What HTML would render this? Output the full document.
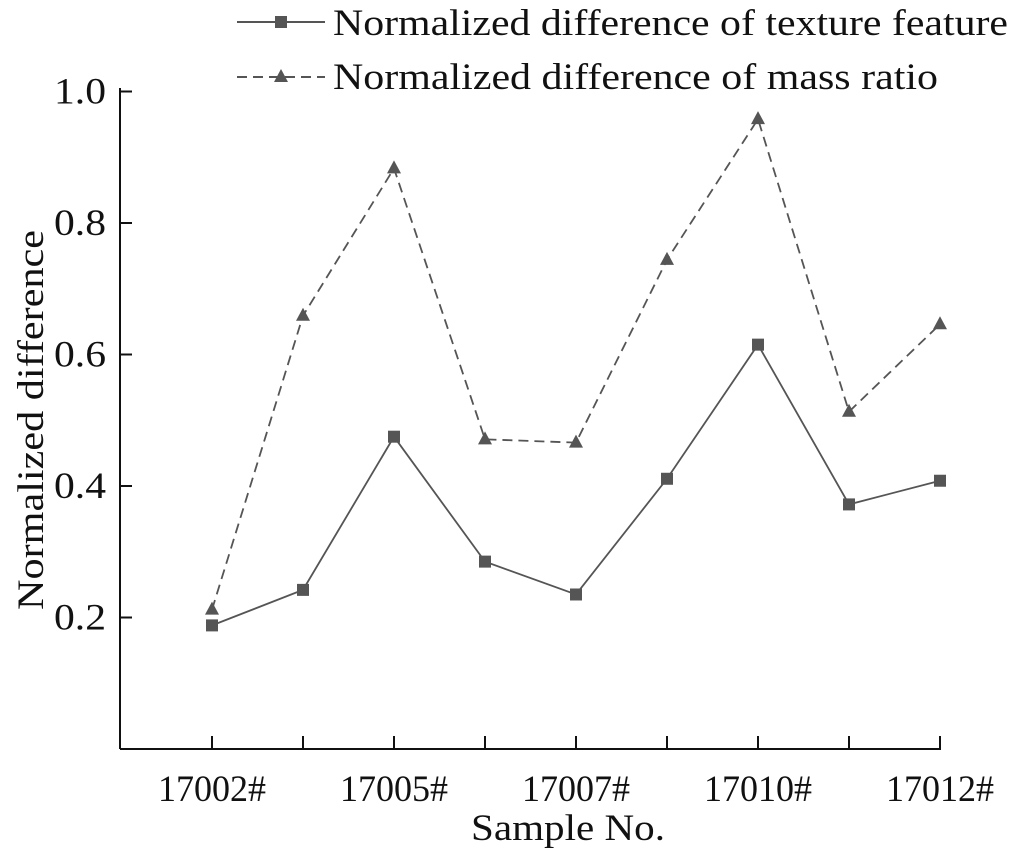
<!DOCTYPE html>
<html><head><meta charset="utf-8"><style>
body{margin:0;background:#fff}
svg{display:block;font-family:"Liberation Serif",serif}
</style></head><body>
<svg id="c" width="1012" height="853" viewBox="0 0 1012 853"></svg>
<script>
const categories=["17002#","","17005#","","17007#","","17010#","","17012#"];
const textureValues=[0.188,0.242,0.475,0.285,0.235,0.411,0.615,0.372,0.408];
const massValues=[0.212,0.659,0.883,0.471,0.466,0.744,0.958,0.513,0.646];
const yTicks=[0.2,0.4,0.6,0.8,1.0];
const yTickLabels=["0.2","0.4","0.6","0.8","1.0"];
const NS="http://www.w3.org/2000/svg";
const svg=document.getElementById('c');
const X0=120,Y0=749,x1=212,dx=91.0;
const xs=i=>x1+i*dx;
const ys=v=>Y0-v*657.5;
function mk(t,a,p){const e=document.createElementNS(NS,t);for(const k in a)e.setAttribute(k,a[k]);(p||svg).appendChild(e);return e;}
const C="#555";
let e;
e=mk('line',{x1:X0,y1:88,x2:X0,y2:Y0,stroke:"#111","stroke-width":2});


e=mk('line',{x1:X0,y1:Y0,x2:xs(8)+1,y2:Y0,stroke:"#111","stroke-width":2});


yTicks.forEach((v,i)=>{
 e=mk('line',{x1:X0,y1:ys(v),x2:X0+12,y2:ys(v),stroke:"#111","stroke-width":2});
 
 
 e=mk('text',{x:106,y:ys(v)+12,"text-anchor":"end","font-size":37,fill:"#111",textLength:52,lengthAdjust:"spacingAndGlyphs"});
 e.textContent=yTickLabels[i];
 
 
});
categories.forEach((c,i)=>{
 e=mk('line',{x1:xs(i),y1:Y0,x2:xs(i),y2:Y0-13,stroke:"#111","stroke-width":2});
 
 
 if(c){e=mk('text',{x:xs(i),y:801,"text-anchor":"middle","font-size":37,fill:"#111",textLength:108,lengthAdjust:"spacingAndGlyphs"});
 e.textContent=c;
 
 }
});
e=mk('text',{x:568,y:840,"text-anchor":"middle","font-size":37,fill:"#111",textLength:194,lengthAdjust:"spacingAndGlyphs"});
e.textContent="Sample No.";


e=mk('text',{x:0,y:0,"text-anchor":"middle","font-size":37,fill:"#111",textLength:380,lengthAdjust:"spacingAndGlyphs",transform:"translate(43,420) rotate(-90)"});
e.textContent="Normalized difference";


function series(vals,dash,marker,name){
 e=mk('polyline',{points:vals.map((v,i)=>xs(i)+","+ys(v)).join(" "),fill:"none",stroke:C,"stroke-width":1.8,"stroke-dasharray":dash});
 
 
 vals.forEach((v,i)=>{marker(xs(i),ys(v));});
}
function sq(x,y){e=mk('rect',{x:x-6,y:y-6,width:12,height:12,fill:C});
 
 }
function tri(x,y){e=mk('polygon',{points:`${x},${y-8} ${x-7},${y+5} ${x+7},${y+5}`,fill:C});
 
 }
series(massValues,"10,6",tri,'mass-ratio');
series(textureValues,"none",sq,'texture-feature');
e=mk('line',{x1:237,y1:22,x2:325,y2:22,stroke:C,"stroke-width":2});


sq(281,22);
e=mk('text',{x:333,y:35,"font-size":37,fill:"#111",textLength:675,lengthAdjust:"spacingAndGlyphs"});
e.textContent="Normalized difference of texture feature";


e=mk('line',{x1:237,y1:77,x2:325,y2:77,stroke:C,"stroke-width":2,"stroke-dasharray":"10,6"});


tri(281,77);
e=mk('text',{x:333,y:89,"font-size":37,fill:"#111",textLength:605,lengthAdjust:"spacingAndGlyphs"});
e.textContent="Normalized difference of mass ratio";


</script>
</body></html>
